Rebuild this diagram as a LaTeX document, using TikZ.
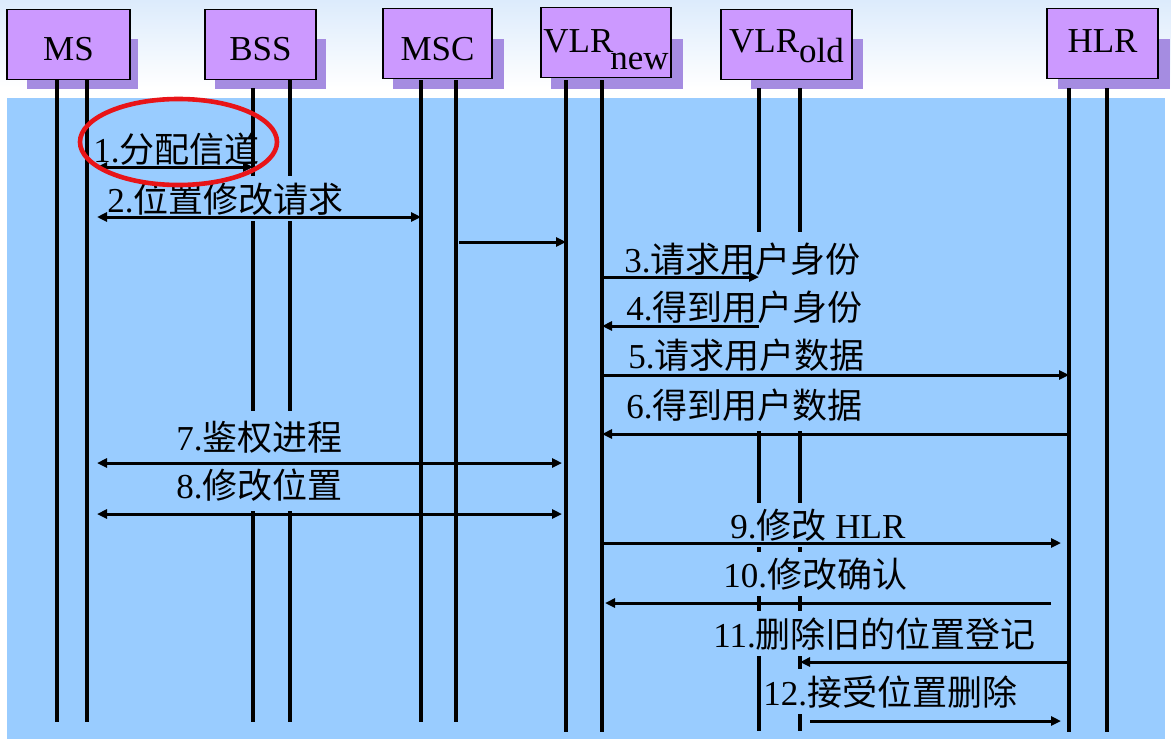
\documentclass[tikz,border=0pt]{standalone}
\usepackage{fontspec}
\setmainfont{Liberation Serif}
\newfontfamily\cjk{Noto Sans CJK SC}
\usetikzlibrary{arrows.meta}
\definecolor{skyblue}{RGB}{153,204,255}
\definecolor{lilac}{RGB}{204,153,255}
\definecolor{lilacshade}{RGB}{165,140,225}
\definecolor{haze}{RGB}{220,235,252}
\definecolor{ringred}{RGB}{232,20,24}

\begin{document}
\begin{tikzpicture}[
    x=0.5pt, y=-0.5pt,
    every node/.style={font=\fontsize{17.5}{21}\selectfont},
    ent/.style={draw, line width=0.6pt, fill=lilac, minimum height=35pt, inner sep=0pt, text depth=0pt},
    life/.style={line width=1.6pt},
    lbl/.style={fill=skyblue, inner xsep=1pt, inner ysep=3pt, anchor=base west},
    arr/.style={-{Triangle[length=5pt,width=4.5pt]}, line width=1.5pt},
    darr/.style={{Triangle[length=5pt,width=4.5pt]}-{Triangle[length=5pt,width=4.5pt]}, line width=1.5pt}
]
\useasboundingbox (0,0) rectangle (1171,739);
\shade[top color=haze, bottom color=white] (0,0) rectangle (1171,88);
\fill[skyblue] (7,98) rectangle (1165,739);

% shadows behind the boxes
\foreach \l/\r in {27/138, 215/326, 393/504, 551/683, 751/863, 1058/1170}
    \fill[lilacshade] (\l,39) rectangle (\r,89);

\node[ent, minimum width=61.5pt, text height=15.5pt] (ms) at (68.5,44.5) {MS};
\node[ent, minimum width=55.5pt, text height=15.5pt] (bss) at (260.5,44.5) {BSS};
\node[ent, minimum width=54.5pt, text height=16.5pt] (msc) at (437.5,43.5) {MSC};
\node[ent, minimum width=65pt, text height=9.5pt] (vlrn) at (606,42.5) {VLR\kern-1.5pt\raisebox{-9pt}{new}};
\node[ent, minimum width=65.5pt, text height=7.5pt] (vlro) at (786.5,44.5) {VLR\raisebox{-5.5pt}{old}};
\node[ent, minimum width=55.5pt, text height=8.5pt] (hlr) at (1102.5,43.5) {HLR};

% lifelines
\foreach \nm/\xx/\ya/\yb in {ms-a/57/80/722, ms-b/87/80/722, bss-a/253/88/722, bss-b/290/80/722,
        msc-a/421/80/722, msc-b/456/80/722, vlrn-a/566/80/732, vlrn-b/602/80/732,
        vlro-a/759/88/731, vlro-b/800/88/731, hlr-a/1069/88/732, hlr-b/1107/88/732} {
    \coordinate (\nm) at (\xx,\ya);
    \draw[life] (\nm) -- (\xx,\yb);
}

% messages
\node[lbl, fill=none] (m1) at (91,162) {1.{\cjk 分配信道}};
\node[lbl] (m2) at (105,212) {2.{\cjk 位置修改请求}};
\node[lbl, inner ysep=5pt] (m3) at (622,272) {3.{\cjk 请求用户身份}};
\node[lbl, inner ysep=5pt] (m4) at (624,320) {4.{\cjk 得到用户身份}};
\node[lbl, inner ysep=5pt] (m5) at (626,368) {5.{\cjk 请求用户数据}};
\node[lbl, inner ysep=5pt] (m6) at (624,418) {6.{\cjk 得到用户数据}};
\node[lbl, inner ysep=5pt] (m7) at (174,450) {7.{\cjk 鉴权进程}};
\node[lbl, inner ysep=5pt] (m8) at (174,498) {8.{\cjk 修改位置}};
\node[lbl] (m9) at (728,538) {9.{\cjk 修改} HLR};
\node[lbl] (m10) at (721,587) {10.{\cjk 修改确认}};
\node[lbl] (m11) at (711,647) {11.{\cjk 删除旧的位置登记}};
\node[lbl] (m12) at (761,705) {12.{\cjk 接受位置删除}};

\draw[darr, shorten <=5pt] (ms-b |- 0,167) -- (bss-a |- 0,167);
\draw[darr, shorten <=5pt] (ms-b |- 0,217) -- (msc-a |- 0,217);
\draw[arr, shorten <=1.5pt] (msc-b |- 0,242) -- (vlrn-a |- 0,242);
\draw[arr] (vlrn-b |- 0,277) -- (vlro-a |- 0,277);
\draw[arr] (vlro-a |- 0,326) -- (vlrn-b |- 0,326);
\draw[arr] (vlrn-b |- 0,375) -- (hlr-a |- 0,375);
\draw[arr] (hlr-a |- 0,434) -- (vlrn-b |- 0,434);
\draw[darr, shorten <=5pt, shorten >=2pt] (ms-b |- 0,463) -- (vlrn-a |- 0,463);
\draw[darr, shorten <=5pt, shorten >=2pt] (ms-b |- 0,514) -- (vlrn-a |- 0,514);
\draw[arr, shorten >=4pt] (vlrn-b |- 0,543) -- (hlr-a |- 0,543);
\draw[arr, shorten <=9pt, shorten >=1.5pt] (hlr-a |- 0,603) -- (vlrn-b |- 0,603);
\draw[arr] (hlr-a |- 0,662) -- (vlro-b |- 0,662);
\draw[arr, shorten <=5pt, shorten >=4pt] (vlro-b |- 0,721) -- (hlr-a |- 0,721);

\draw[ringred, line width=2.3pt] (178.5,142) ellipse [x radius=49.25pt, y radius=21.5pt];
\end{tikzpicture}
\end{document}
